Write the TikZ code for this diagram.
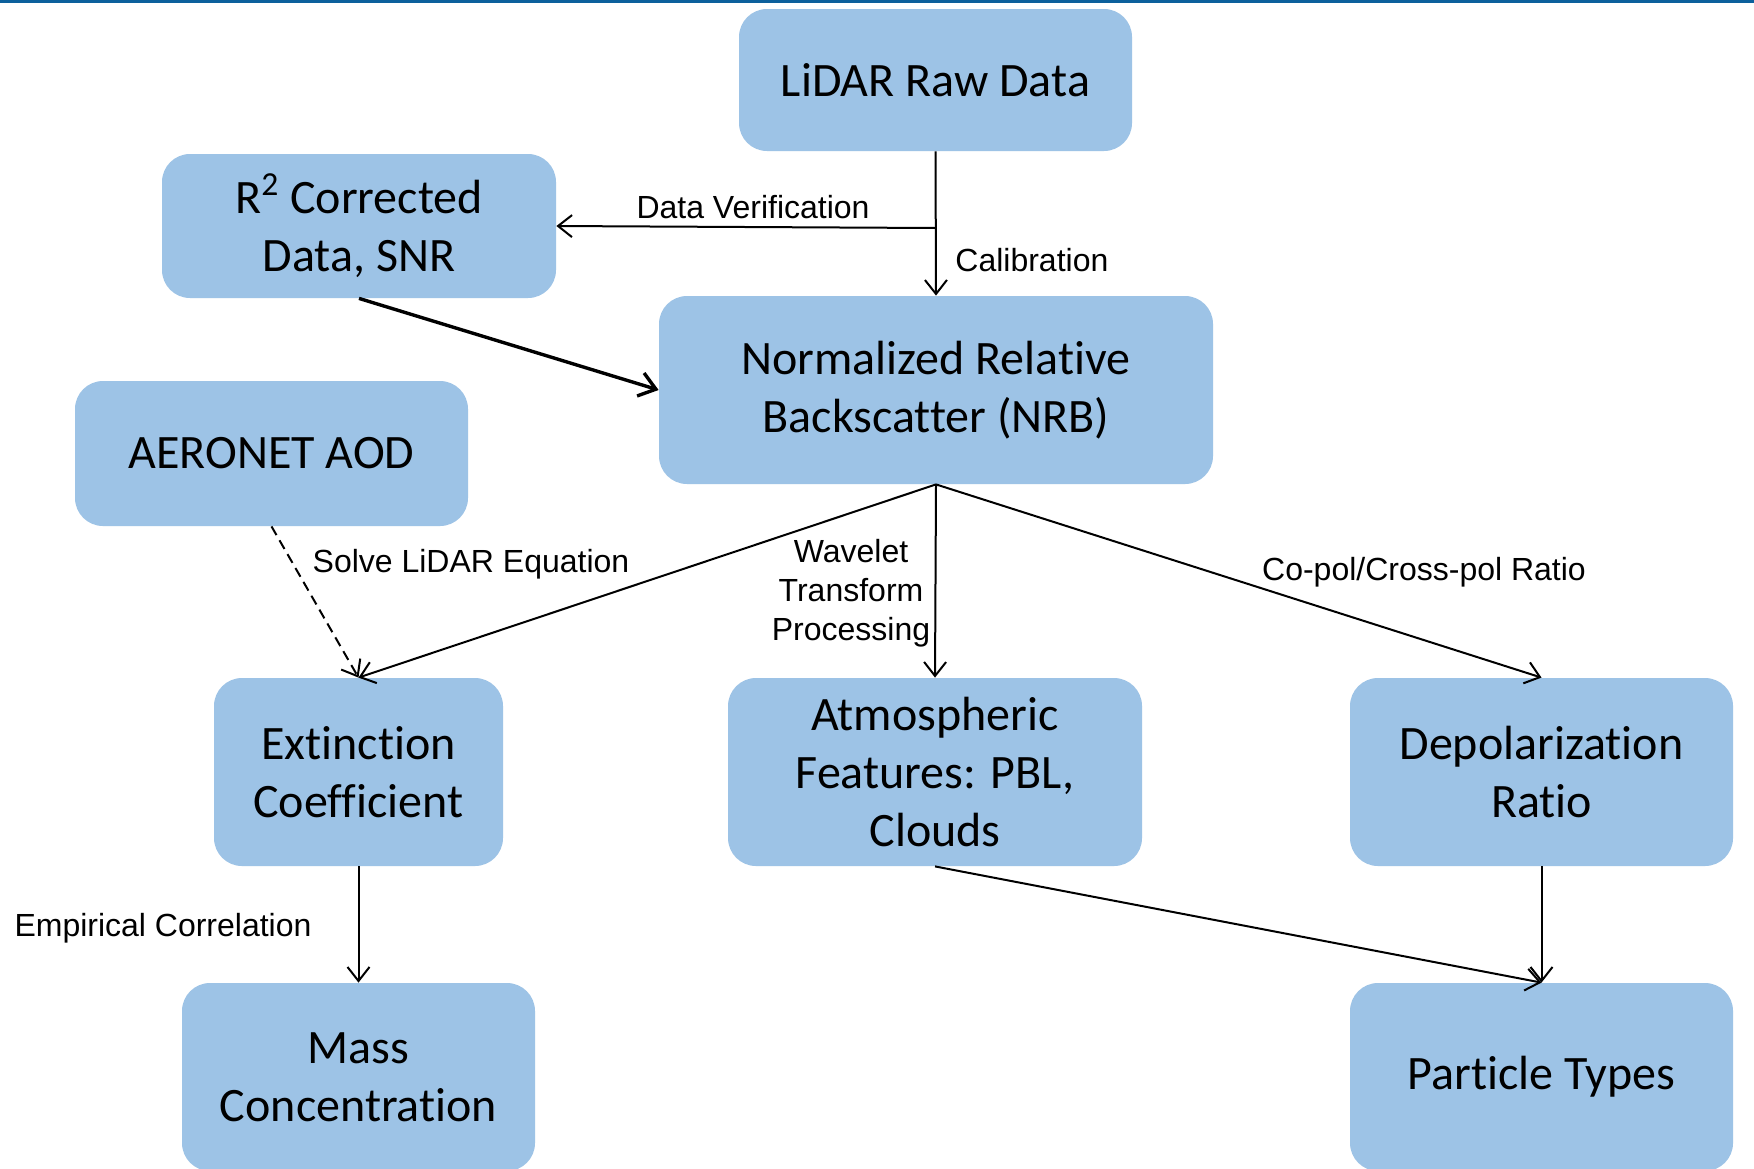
\documentclass[tikz,border=0pt]{standalone}
\usepackage{fontspec}
\setmainfont{Carlito}[Ligatures={NoCommon}]
\newfontfamily\labelfont{Liberation Sans}
\usetikzlibrary{arrows.meta}
\definecolor{boxblue}{HTML}{9DC3E6}
\definecolor{topline}{RGB}{12,96,156}
\tikzset{
  box/.style={fill=boxblue, rounded corners=14pt, align=center, inner sep=0pt,
    font=\fontsize{24pt}{29pt}\selectfont, text=black},
  lbl/.style={font=\labelfont\fontsize{16pt}{19.5pt}\selectfont, align=center, inner sep=0pt},
  conn/.style={line width=1pt, -{Straight Barb[length=7pt,width=11pt,line width=1pt]}},
  thickconn/.style={line width=1.7pt, -{Straight Barb[length=8pt,width=12pt,line width=1.7pt]}},
}
\begin{document}
\begin{tikzpicture}[x=0.5pt,y=-0.5pt]
\useasboundingbox (0,0) rectangle (1754,1168);
\clip (0,0) rectangle (1754,1168);
\fill[white] (0,0) rectangle (1754,1168);
\fill[topline] (0,0) rectangle (1754,3);

\node[box, minimum width=196.5pt, minimum height=71pt] (raw) at (935.5,80) {LiDAR Raw Data};
\node[box, minimum width=197pt, minimum height=72pt] (r2) at (359,226) {R\textsuperscript{2} Corrected\\Data, SNR};
\node[box, minimum width=277pt, minimum height=94pt] (nrb) at (936,390) {Normalized Relative\\Backscatter (NRB)};
\node[box, minimum width=196.5pt, minimum height=72.5pt] (aer) at (271.5,453.5) {AERONET AOD};
\node[box, minimum width=144.5pt, minimum height=94pt] (ext) at (358.5,772) {Extinction\\Coefficient};
\node[box, minimum width=207pt, minimum height=94pt] (atm) at (935,772) {Atmospheric\\Features: PBL,\\Clouds};
\node[box, minimum width=191.5pt, minimum height=94pt] (dep) at (1541.5,772) {Depolarization\\Ratio};
\node[box, minimum width=176.5pt, minimum height=94pt] (mass) at (358.5,1077) {Mass\\Concentration};
\node[box, minimum width=191.5pt, minimum height=94pt] (part) at (1541.5,1077) {Particle Types};

\coordinate (dv) at (936,228);
\draw[conn] (raw.south) -- (nrb.north);
\draw[conn] (dv) -- (r2.east);
\draw[thickconn] (r2.south) -- (nrb.west);
\draw[conn, dash pattern=on 5pt off 3pt] (aer.south) -- (ext.north);
\draw[conn] (nrb.south) -- (ext.north);
\draw[conn] (nrb.south) -- (atm.north);
\draw[conn] (nrb.south) -- (dep.north);
\draw[conn] (ext.south) -- (mass.north);
\draw[conn] (atm.south) -- (part.north);
\draw[conn] (dep.south) -- (part.north);

\node[lbl] (l1) at (753,207) {Data Verification};
\node[lbl, anchor=west] (l2) at (955,260) {Calibration};
\node[lbl] (l3) at (471,564) {Solve LiDAR Equation};
\node[lbl] (l4) at (851,593) {Wavelet\\Transform\\Processing};
\node[lbl] (l5) at (1424,572) {Co-pol/Cross-pol Ratio};
\node[lbl] (l6) at (163,928) {Empirical Correlation};
\end{tikzpicture}
\end{document}
